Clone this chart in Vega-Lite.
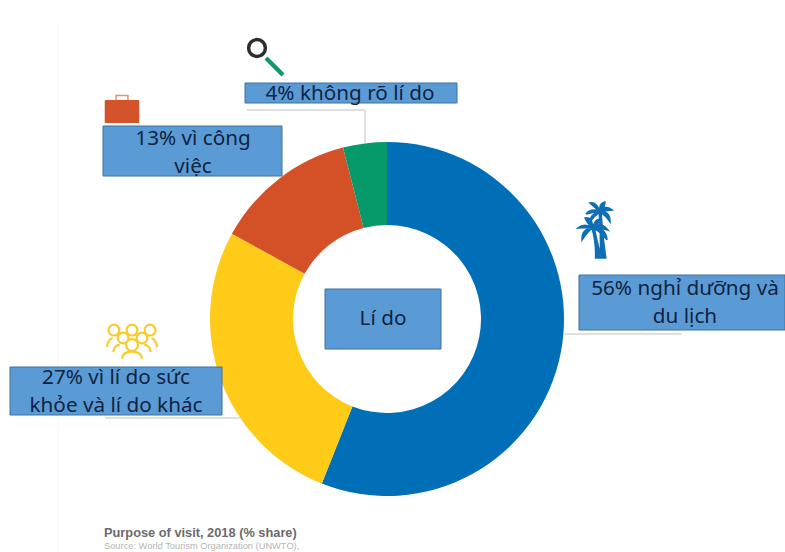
{
  "$schema": "https://vega.github.io/schema/vega-lite/v6.json",
  "autosize": {"type": "none"},
  "width": 785,
  "height": 552,
  "padding": 0,
  "background": "#ffffff",
  "config": {
    "view": {"stroke": null},
    "axis": {"disable": true},
    "text": {"font": "Noto Sans", "fontSize": 20.7, "color": "#10233f", "lineHeight": 28, "lineBreak": "\n", "align": "center"}
  },
  "datasets": {
    "reasons": [
      {"rank": 1, "reason": "holiday", "share": 56, "label": "56% nghỉ dưỡng và\ndu lịch"},
      {"rank": 2, "reason": "health", "share": 27, "label": "27% vì lí do sức\nkhỏe và lí do khác"},
      {"rank": 3, "reason": "business", "share": 13, "label": "13% vì công\nviệc"},
      {"rank": 4, "reason": "unspecified", "share": 4, "label": "4% không rõ lí do"}
    ]
  },
  "data": {"name": "reasons"},
  "layer": [
    {
      "mark": {"type": "rule", "stroke": "#f6f6f6", "strokeWidth": 1},
      "transform": [{"filter": "datum.rank === 1"}],
      "encoding": {
        "x": {"datum": 58, "scale": {"domain": [0, 785], "nice": false}},
        "y": {"datum": 25, "scale": {"domain": [552, 0], "nice": false}},
        "y2": {"datum": 552}
      }
    },
    {
      "mark": {"type": "arc", "innerRadius": 94, "outerRadius": 177},
      "encoding": {
        "x": {"datum": 387},
        "y": {"datum": 319},
        "theta": {"field": "share", "type": "quantitative", "stack": true},
        "order": {"field": "rank"},
        "color": {
          "field": "reason",
          "type": "nominal",
          "legend": null,
          "scale": {
            "domain": ["holiday", "health", "business", "unspecified"],
            "range": ["#006fb8", "#fecb18", "#d45127", "#069a6b"]
          }
        }
      }
    },
    {
      "transform": [{"filter": "datum.reason === 'holiday'"}],
      "layer": [
        {
          "mark": {"type": "rule", "stroke": "#d6d6d6", "strokeWidth": 1.5},
          "encoding": {"x": {"datum": 565}, "x2": {"datum": 682}, "y": {"datum": 334}}
        },
        {
          "mark": {"type": "rect", "fill": "#5b9bd5", "stroke": "#41719c", "strokeWidth": 1},
          "encoding": {"x": {"datum": 579}, "x2": {"datum": 785}, "y": {"datum": 275}, "y2": {"datum": 330}}
        },
        {
          "mark": {"type": "text"},
          "encoding": {"x": {"datum": 685}, "y": {"datum": 289}, "text": {"field": "label"}}
        },
        {
          "mark": {
            "type": "point",
            "filled": true,
            "opacity": 1,
            "fill": "#0f6fb5",
            "stroke": "#0f6fb5",
            "strokeWidth": 1.6,
            "size": 3600,
            "shape": "M.17 -.6 Q.05 -.95 -.17 -.9 Q0 -.75 .17 -.6 Z M.17 -.6 Q.12 -.88 .33 -.93 Q.33 -.75 .17 -.6 Z M.17 -.6 Q.3 -.85 .57 -.67 Q.35 -.65 .17 -.6 Z M.17 -.6 Q.5 -.65 .5 -.27 Q.35 -.5 .17 -.6 Z M.17 -.6 Q-.1 -.75 -.3 -.53 Q-.1 -.6 .17 -.6 Z M.17 -.6 Q-.15 -.55 -.17 -.27 Q0 -.5 .17 -.6 Z M-.07 -.07 Q-.1 -.45 -.33 -.4 Q-.25 -.2 -.07 -.07 Z M-.07 -.07 Q0 -.4 .2 -.35 Q.1 -.2 -.07 -.07 Z M-.07 -.07 Q.2 -.3 .43 0 Q.2 -.08 -.07 -.07 Z M-.07 -.07 Q.35 -.1 .4 .33 Q.2 .05 -.07 -.07 Z M-.07 -.07 Q-.35 -.25 -.57 -.07 Q-.3 -.08 -.07 -.07 Z M-.07 -.07 Q-.45 -.05 -.43 .33 Q-.25 .05 -.07 -.07 Z M.14 -.6 L.2 -.6 Q.24 .2 .36 .93 L.18 .93 Q.2 .2 .14 -.6 Z M-.1 -.07 L-.03 -.07 Q.1 .5 .2 .93 L.02 .93 Q.04 .4 -.1 -.07 Z"
          },
          "encoding": {"x": {"datum": 595}, "y": {"datum": 230}}
        }
      ]
    },
    {
      "transform": [{"filter": "datum.reason === 'health'"}],
      "layer": [
        {
          "mark": {"type": "rule", "stroke": "#d6d6d6", "strokeWidth": 1.5},
          "encoding": {"x": {"datum": 105}, "x2": {"datum": 240}, "y": {"datum": 418}}
        },
        {
          "mark": {"type": "rect", "fill": "#5b9bd5", "stroke": "#41719c", "strokeWidth": 1},
          "encoding": {"x": {"datum": 10}, "x2": {"datum": 222}, "y": {"datum": 367}, "y2": {"datum": 415}}
        },
        {
          "mark": {"type": "text"},
          "encoding": {"x": {"datum": 116}, "y": {"datum": 378}, "text": {"field": "label"}}
        },
        {
          "mark": {
            "type": "point",
            "filled": false,
            "opacity": 1,
            "fill": "transparent",
            "stroke": "#f9cb2e",
            "strokeWidth": 2.2,
            "size": 2916,
            "shape": "M-.87 -.44 A.2 .2 0 1 1 -.47 -.44 A.2 .2 0 1 1 -.87 -.44 Z M-.2 -.44 A.2 .2 0 1 1 .2 -.44 A.2 .2 0 1 1 -.2 -.44 Z M.47 -.44 A.2 .2 0 1 1 .87 -.44 A.2 .2 0 1 1 .47 -.44 Z M-.53 -.15 A.2 .2 0 1 1 -.13 -.15 A.2 .2 0 1 1 -.53 -.15 Z M.17 -.15 A.2 .2 0 1 1 .57 -.15 A.2 .2 0 1 1 .17 -.15 Z M-.22 .11 A.22 .22 0 1 1 .22 .11 A.22 .22 0 1 1 -.22 .11 Z M-.37 .62 Q-.35 .36 0 .36 Q.35 .36 .37 .62 M-.7 .37 Q-.65 .12 -.45 .1 M.7 .37 Q.65 .12 .45 .1 M-.93 .18 Q-.88 -.1 -.72 -.15 M.93 .18 Q.88 -.1 .72 -.15"
          },
          "encoding": {"x": {"datum": 132}, "y": {"datum": 342}}
        }
      ]
    },
    {
      "transform": [{"filter": "datum.reason === 'business'"}],
      "layer": [
        {
          "mark": {"type": "rect", "fill": "#5b9bd5", "stroke": "#41719c", "strokeWidth": 1},
          "encoding": {"x": {"datum": 103}, "x2": {"datum": 282}, "y": {"datum": 126}, "y2": {"datum": 176}}
        },
        {
          "mark": {"type": "text"},
          "encoding": {"x": {"datum": 193}, "y": {"datum": 139}, "text": {"field": "label"}}
        },
        {
          "mark": {
            "type": "point",
            "filled": true,
            "opacity": 1,
            "fill": "#d4532b",
            "size": 1296,
            "shape": "M-0.92 -0.55 L0.92 -0.55 Q0.96 -0.55 0.96 -0.45 L0.96 0.72 L-0.96 0.72 L-0.96 -0.45 Q-0.96 -0.55 -0.92 -0.55 Z"
          },
          "encoding": {"x": {"datum": 122}, "y": {"datum": 110}}
        },
        {
          "mark": {
            "type": "point",
            "filled": false,
            "opacity": 1,
            "fill": "transparent",
            "stroke": "#e88f73",
            "strokeWidth": 1.5,
            "size": 1296,
            "shape": "M-0.33 -0.55 L-0.33 -0.8 L0.33 -0.8 L0.33 -0.55"
          },
          "encoding": {"x": {"datum": 122}, "y": {"datum": 110}}
        }
      ]
    },
    {
      "transform": [{"filter": "datum.reason === 'unspecified'"}],
      "layer": [
        {
          "mark": {"type": "rule", "stroke": "#d6d6d6", "strokeWidth": 1.5},
          "encoding": {"x": {"datum": 247}, "x2": {"datum": 365}, "y": {"datum": 110}}
        },
        {
          "mark": {"type": "rule", "stroke": "#d6d6d6", "strokeWidth": 1.5},
          "encoding": {"x": {"datum": 365}, "y": {"datum": 110}, "y2": {"datum": 143}}
        },
        {
          "mark": {"type": "rect", "fill": "#5b9bd5", "stroke": "#41719c", "strokeWidth": 1},
          "encoding": {"x": {"datum": 245}, "x2": {"datum": 457}, "y": {"datum": 83}, "y2": {"datum": 103}}
        },
        {
          "mark": {"type": "text"},
          "encoding": {"x": {"datum": 350}, "y": {"datum": 94}, "text": {"field": "label"}}
        },
        {
          "mark": {"type": "rule", "stroke": "#0a9a6c", "strokeWidth": 4.5},
          "encoding": {"x": {"datum": 266}, "x2": {"datum": 283}, "y": {"datum": 58}, "y2": {"datum": 75}}
        },
        {
          "mark": {"type": "point", "shape": "circle", "filled": false, "opacity": 1, "fill": "transparent", "stroke": "#2d2d2d", "strokeWidth": 3.5, "size": 283},
          "encoding": {"x": {"datum": 257}, "y": {"datum": 48}}
        }
      ]
    },
    {
      "data": {"values": [{"title": "Lí do"}]},
      "layer": [
        {
          "mark": {"type": "rect", "fill": "#5b9bd5", "stroke": "#41719c", "strokeWidth": 1},
          "encoding": {"x": {"datum": 325}, "x2": {"datum": 441}, "y": {"datum": 289}, "y2": {"datum": 349}}
        },
        {
          "mark": {"type": "text"},
          "encoding": {"x": {"datum": 383}, "y": {"datum": 319}, "text": {"field": "title"}}
        }
      ]
    },
    {
      "data": {"values": [{"caption": "Purpose of visit, 2018 (% share)"}]},
      "mark": {"type": "text", "align": "left", "font": "Liberation Sans", "fontWeight": "bold", "fontSize": 12.8, "color": "#6b6b6b"},
      "encoding": {"x": {"datum": 104}, "y": {"datum": 533}, "text": {"field": "caption"}}
    },
    {
      "data": {"values": [{"source": "Source: World Tourism Organization (UNWTO),"}]},
      "mark": {"type": "text", "align": "left", "font": "Liberation Sans", "fontSize": 9.3, "color": "#b5b5b5"},
      "encoding": {"x": {"datum": 104}, "y": {"datum": 545.5}, "text": {"field": "source"}}
    }
  ]
}
